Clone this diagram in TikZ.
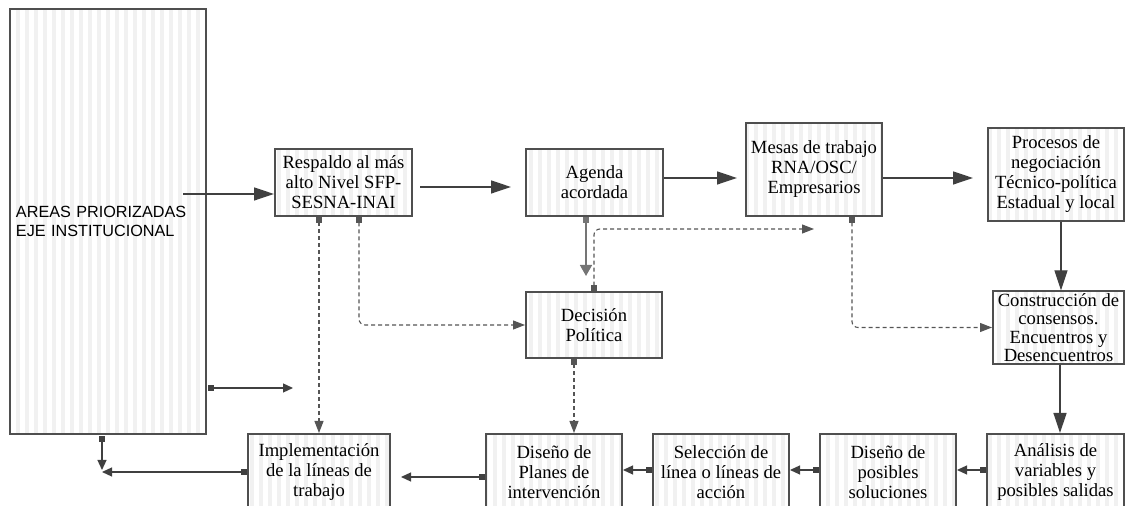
\documentclass[tikz,border=0pt]{standalone}
\usepackage{fontspec}
\setmainfont{Liberation Serif}
\setsansfont{Liberation Sans}
\usepackage{tikz}
\usetikzlibrary{
  arrows.meta,
  positioning,
  calc,
  patterns.meta
}
\definecolor{agLine}{HTML}{404040}
\definecolor{agBox}{HTML}{4F4F4F}
\definecolor{agStripe}{HTML}{F1F1F1}
\definecolor{agDash}{HTML}{555555}
\definecolor{agSoft}{HTML}{757575}
\tikzset{
  stagebox/.style={
    draw=agBox, line width=1pt,
    pattern={Lines[angle=90, distance=4.5pt, line width=2pt]}, pattern color=agStripe,
    minimum width=68pt, minimum height=33.5pt, inner sep=1pt,
    align=center, font=\fontsize{9.3}{10}\selectfont
  },
  tallbox/.style={stagebox, minimum height=46.5pt},
  rowbox/.style={stagebox, minimum height=38pt},
  areabox/.style={
    stagebox, minimum width=98pt, minimum height=212.5pt, text width=92pt,
    inner xsep=3pt, align=left, font=\sffamily\fontsize{8.1}{9.5}\selectfont
  },
  flow/.style={-{Triangle[length=10pt, width=6.5pt]}, line width=0.65pt, agLine},
  softflow/.style={{Square[length=3pt, width=3pt]}-{Triangle[length=5.5pt, width=6pt]}, line width=0.8pt, agSoft},
  stepflow/.style={{Square[length=3pt, width=3pt]}-{Triangle[length=5pt, width=4.5pt]}, line width=0.6pt, agLine},
  dflow/.style={{Square[length=3pt, width=3pt]}-{Triangle[length=6pt, width=4.5pt]}, line width=0.55pt,
    agDash, dash pattern=on 2pt off 1.5pt, rounded corners=3pt}
}

\begin{document}
\begin{tikzpicture}[x=0.5pt, y=-0.5pt]
  \useasboundingbox (0,0) rectangle (1126,506);
  \clip (0,0) rectangle (1126,506);

  \node[areabox] (areas) at (108,221.5) {AREAS PRIORIZADAS\\EJE INSTITUCIONAL};
  \node[stagebox, minimum width=68.5pt] (respaldo) at (343.5,182.5) {Respaldo al más\\alto Nivel SFP-\\SESNA-INAI};
  \node[stagebox, minimum width=68.5pt] (agenda) at (594.5,182.5) {Agenda\\acordada};
  \node[tallbox] (mesas) at (814,169.5) {Mesas de trabajo\\RNA/OSC/\\Empresarios};
  \node[tallbox] (procesos) at (1056,174.5) {Procesos de\\negociación\\Técnico-política\\Estadual y local};
  \node[stagebox, minimum width=65.5pt, minimum height=35.5pt, font=\fontsize{9.3}{9.2}\selectfont] (consenso) at (1058.5,327.5) {Construcción de\\consensos.\\Encuentros y\\Desencuentros};
  \node[stagebox, minimum height=33pt] (decision) at (594,325) {Decisión\\Política};

  \node[rowbox, minimum width=68.5pt] (analisis) at (1055.5,472) {Análisis de\\variables y\\posibles salidas};
  \node[rowbox] (soluciones) at (888,472) {Diseño de\\posibles\\soluciones};
  \node[rowbox] (seleccion) at (721,472) {Selección de\\línea o líneas de\\acción};
  \node[rowbox] (planes) at (554,472) {Diseño de\\Planes de\\intervención};
  \node[rowbox, minimum width=71pt] (implementa) at (319,472) {Implementación\\de la líneas de\\trabajo};

  \coordinate (a1) at (183,194);
  \coordinate (stub) at (293,388);
  \coordinate (join) at (102,470);

  % upper chain
  \draw[flow] (a1) -- (a1 -| respaldo.west);
  \draw[flow, shorten <=3.5pt, shorten >=7pt] ([yshift=-2.25pt]respaldo.east) -- ([yshift=-2.25pt]agenda.west);
  \draw[flow, shorten >=4pt] ([yshift=2.25pt]agenda.east) -- ([yshift=-4.25pt]mesas.west);
  \draw[flow, shorten >=7pt] ([yshift=-4.25pt]mesas.east) -- ([yshift=-1.75pt]procesos.west);
  \draw[flow] ([xshift=2.5pt]procesos.south) -- ([xshift=1.25pt]consenso.north);
  \draw[flow] ([xshift=0.75pt]consenso.south) -- ([xshift=2.25pt]analisis.north);
  \draw[softflow, shorten >=7.5pt] ([xshift=-4.25pt]agenda.south) -- ([xshift=-4pt]decision.north);

  % lower chain
  \draw[stepflow] ([yshift=1pt]analisis.west) -- ([yshift=1pt]soluciones.east);
  \draw[stepflow] ([yshift=1pt]soluciones.west) -- ([yshift=1pt]seleccion.east);
  \draw[stepflow] ([yshift=1pt]seleccion.west) -- ([yshift=1pt]planes.east);
  \draw[stepflow, shorten >=5pt] ([yshift=-2.5pt]planes.west) -- ([yshift=-2.5pt]implementa.east);
  \draw[stepflow] (implementa.west) -- (implementa.west -| join);
  \draw[stepflow] (areas.south -| join) -- (join);
  \draw[stepflow] (areas.east |- stub) -- (stub);

  % dashed links
  \draw[dflow] ([xshift=-12.25pt]respaldo.south) -- (implementa.north);
  \draw[dflow] ([xshift=7.75pt]respaldo.south) |- (decision.west);
  \draw[dflow] (decision.north) |- ([yshift=-6pt]mesas.south);
  \draw[dflow] ([xshift=19pt]mesas.south) |- (consenso.west);
  \draw[dflow] ([xshift=-10pt]decision.south) -- ([xshift=10pt]planes.north);
\end{tikzpicture}
\end{document}
